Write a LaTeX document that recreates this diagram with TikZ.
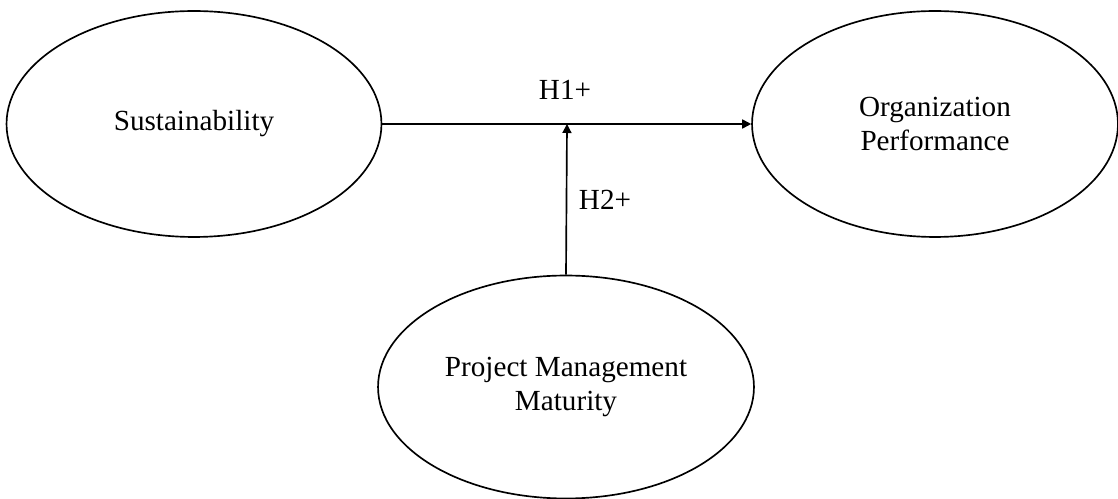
\documentclass[tikz,border=0pt]{standalone}
\usepackage{fontspec}
\setmainfont{Liberation Serif}
\usetikzlibrary{shapes.geometric,arrows.meta}

\begin{document}
\begin{tikzpicture}[x=0.02cm,y=-0.02cm,line width=0.95pt,
  >={Triangle[length=0.18cm,width=0.18cm]},
  main node/.style={draw,ellipse,inner sep=0pt,align=center,
    font=\fontsize{16.6}{19.3}\selectfont},
  hyp label/.style={font=\fontsize{16.6}{19.3}\selectfont}]
\useasboundingbox (0,0) rectangle (1118,499);
\node[main node, minimum width=7.5cm, minimum height=4.52cm] (sus) at (194,124) {Sustainability};
\node[main node, minimum width=7.32cm, minimum height=4.52cm] (perf) at (935,124) {Organization\\Performance};
\node[main node, minimum width=7.52cm, minimum height=4.46cm] (pmm) at (566,387) {Project Management\\Maturity};
\coordinate (mid) at (567,124);

\node[hyp label] (h1) at (565,90) {H1+};
\node[hyp label] (h2) at (605,200) {H2+};

\draw[->] (sus) -- (perf);
\draw[->] (pmm.north) -- (mid);
\end{tikzpicture}
\end{document}
